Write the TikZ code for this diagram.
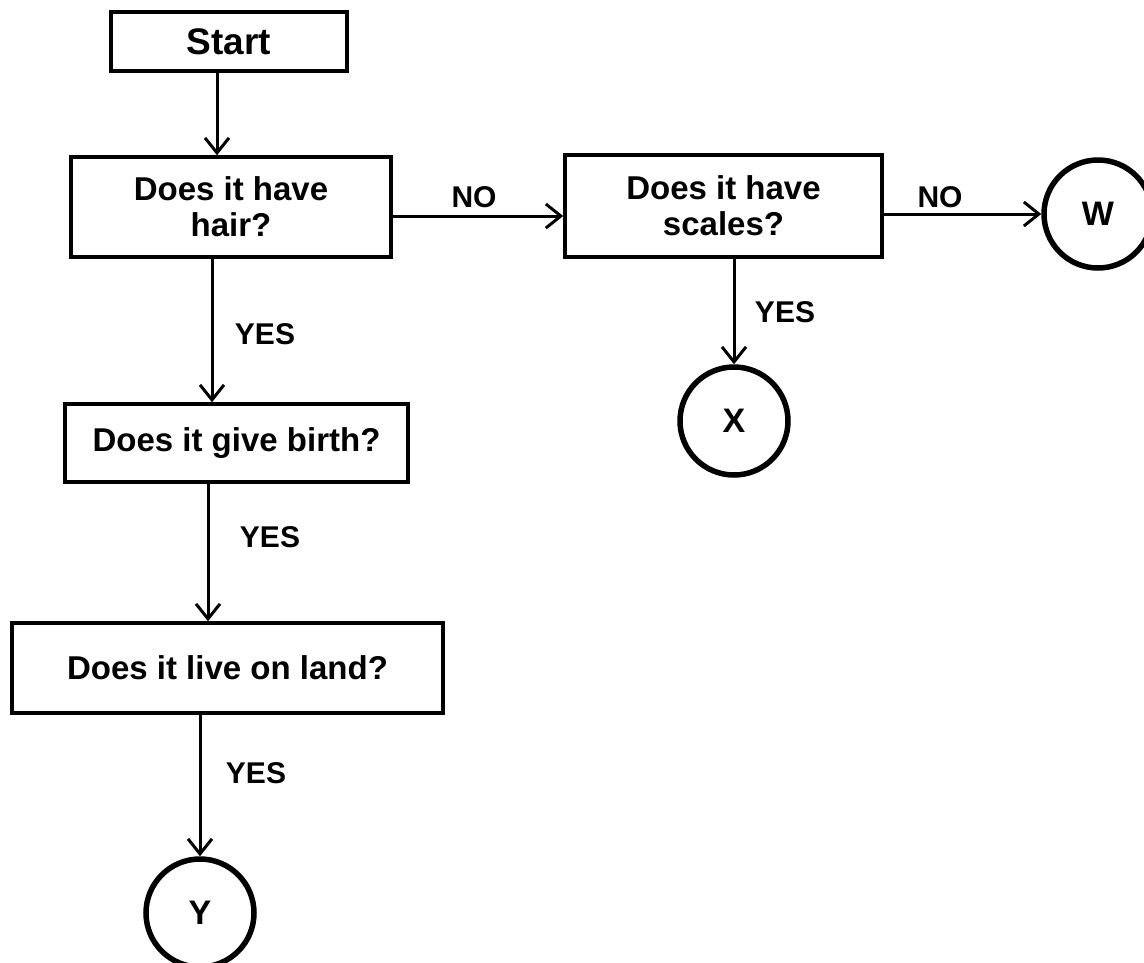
\documentclass[tikz,border=0pt]{standalone}
\usepackage{fontspec}
\setmainfont{Liberation Sans}
\usetikzlibrary{arrows.meta}
\tikzset{
  boxnode/.style={draw, line width=3.5pt, rectangle, align=center, inner sep=0pt,
    font=\bfseries\fontsize{33}{36}\selectfont},
  endnode/.style={draw, line width=5.5pt, circle, inner sep=0pt, minimum size=108pt,
    font=\bfseries\fontsize{34}{36}\selectfont},
  lbl/.style={font=\bfseries\fontsize{30}{32}\selectfont, inner sep=0pt},
  arr/.style={line width=3pt, -{Straight Barb[length=15pt,width=24pt,line width=3pt]}}
}
\begin{document}
\begin{tikzpicture}[x=1pt,y=-1pt]
\useasboundingbox (0,0) rectangle (1144,962);
\node[boxnode, minimum width=236pt, minimum height=59pt, font=\bfseries\fontsize{37}{40}\selectfont] (start) at (229,41.5) {Start};
\node[boxnode, minimum width=320pt, minimum height=100pt] (hair) at (231,207) {Does it have\\hair?};
\node[boxnode, minimum width=317pt, minimum height=102pt] (scales) at (723.5,206) {Does it have\\scales?};
\node[boxnode, minimum width=343pt, minimum height=78pt] (birth) at (236.5,443) {Does it give birth?};
\node[boxnode, minimum width=431pt, minimum height=90pt] (land) at (227.5,668) {Does it live on land?};
\node[endnode] (W) at (1098,214) {W};
\node[endnode] (X) at (734,421) {X};
\node[endnode] (Y) at (200,913) {Y};

\node[lbl] (no1) at (474,197) {NO};
\node[lbl] (no2) at (940,197) {NO};
\node[lbl] (yes1) at (265,334) {YES};
\node[lbl] (yes2) at (785,312) {YES};
\node[lbl] (yes3) at (270,537) {YES};
\node[lbl] (yes4) at (256,773) {YES};

\draw[arr] ([xshift=-12pt]start.south) -- ([xshift=-12pt]start.south |- hair.north);
\draw[arr] ([yshift=-9pt]hair.east) -- ([yshift=-9pt]hair.east -| scales.west);
\draw[arr] (scales.east |- W) -- (W.west);
\draw[arr] (X.north |- scales.south) -- (X.north);
\draw[arr] ([xshift=-19pt]hair.south) -- ([xshift=-19pt]hair.south |- birth.north);
\draw[arr] ([xshift=-28.5pt]birth.south) -- ([xshift=-28.5pt]birth.south |- land.north);
\draw[arr] (Y.north |- land.south) -- (Y.north);
\end{tikzpicture}
\end{document}
